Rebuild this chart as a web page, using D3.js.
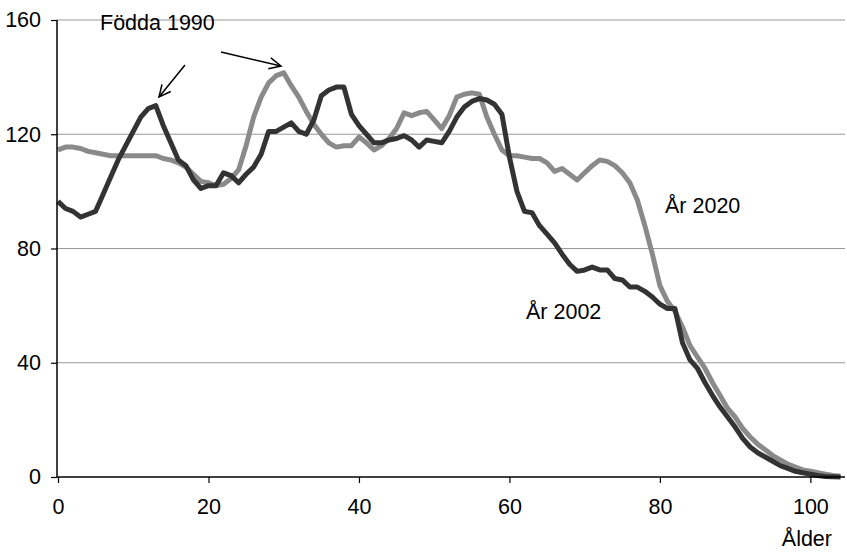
<!DOCTYPE html>
<html>
<head>
<meta charset="utf-8">
<script src="https://cdn.jsdelivr.net/npm/d3@7"></script>
<style>
  body { margin: 0; background: #fff; }
  svg { display: block; font-family: "Liberation Sans", Arial, sans-serif; }
</style>
</head>
<body>
<svg id="chart" width="847" height="552"></svg>
<script>
// ages 0..104
var ages = d3.range(0, 105);

var ar2002 = [96.5, 94, 93, 91, 92, 93, 99, 105, 111, 116,
  121, 126, 129, 130, 123, 117, 111, 109, 104, 101,
  102, 102, 106.5, 105.5, 103, 106, 108.5, 113, 121, 121,
  122.5, 124, 121, 120, 125, 133.5, 135.5, 136.5, 136.5, 127,
  123, 120, 117, 117, 118, 118.5, 119.5, 118, 115.5, 118,
  117.5, 117, 121, 126, 129.5, 131.5, 132.5, 132, 130.5, 127,
  112, 100, 93, 92.5, 88, 85, 82, 78, 74.5, 72,
  72.5, 73.5, 72.5, 72.5, 69.5, 69, 66.5, 66.5, 65, 63,
  60.5, 59, 59, 47, 41, 38, 33, 28.5, 24.5, 21,
  17.5, 13.5, 10.5, 8.5, 7, 5.5, 4, 3, 2, 1.5,
  1, 0.5, 0.2, 0.1, 0];

var ar2020 = [114.5, 115.5, 115.5, 115, 114, 113.5, 113, 112.5, 112.5, 112.5,
  112.5, 112.5, 112.5, 112.5, 111.5, 111, 110, 108.5, 106, 103.5,
  103, 102, 102.5, 104.5, 107.5, 116, 126, 133, 138, 140.5,
  141.5, 137, 133, 128, 123.5, 120, 117, 115.5, 116, 116,
  119, 117, 114.5, 116, 118.5, 122, 127.5, 126.5, 127.5, 128,
  125, 122, 126.5, 133, 134, 134.5, 134, 126, 120, 114.5,
  112.5, 112.5, 112, 111.5, 111.5, 110, 107, 108, 106, 104,
  106.5, 109, 111, 110.5, 109, 106.5, 103, 97, 88, 78,
  67, 61.5, 58, 52.5, 46, 42, 38, 33, 28.5, 24,
  21, 17, 14, 11.5, 9.5, 7.5, 6, 4.5, 3.5, 2.5,
  2, 1.5, 1, 0.5, 0.3];

var xTicks = [0, 20, 40, 60, 80, 100];
var yTicks = [0, 40, 80, 120, 160];

var svg = d3.select("#chart");
var mLeft = 57, mRight = 845, mTop = 20, mBottom = 477;

var x = d3.scaleLinear().domain([0, 104.6]).range([mLeft + 1, mRight]);
var y = d3.scaleLinear().domain([0, 160]).range([mBottom, mTop]);

// gridlines
svg.append("g").selectAll("line")
  .data(yTicks.filter(function(d) { return d > 0; }))
  .enter().append("line")
  .attr("x1", mLeft).attr("x2", mRight)
  .attr("y1", function(d) { return y(d); })
  .attr("y2", function(d) { return y(d); })
  .attr("stroke", "#999").attr("stroke-width", 1.2);

var line = d3.line()
  .x(function(d, i) { return x(ages[i]); })
  .y(function(d) { return y(d); });

svg.append("path").datum(ar2020)
  .attr("d", line).attr("fill", "none")
  .attr("stroke", "#8a8a8a").attr("stroke-width", 5)
  .attr("stroke-linejoin", "round");

svg.append("path").datum(ar2002)
  .attr("d", line).attr("fill", "none")
  .attr("stroke", "#333").attr("stroke-width", 5)
  .attr("stroke-linejoin", "round");

// axes
var yAxis = svg.append("g")
  .attr("transform", "translate(" + mLeft + ",0)")
  .call(d3.axisLeft(y).tickValues(yTicks).tickSize(6).tickPadding(10));
var xAxis = svg.append("g")
  .attr("transform", "translate(0," + mBottom + ")")
  .call(d3.axisBottom(x).tickValues(xTicks).tickSize(6).tickPadding(16));

[yAxis, xAxis].forEach(function(a) {
  a.selectAll(".tick line").attr("stroke", "#000").attr("stroke-width", 1.2);
  a.selectAll("text").attr("font-size", 21.5).attr("fill", "#000")
    .attr("font-family", "Liberation Sans, Arial, sans-serif");
});
xAxis.select(".domain").attr("d", "M" + mLeft + ",0H" + mRight)
  .attr("stroke", "#000").attr("stroke-width", 1.5);
yAxis.select(".domain").attr("d", "M0," + mBottom + "V" + mTop)
  .attr("stroke", "#000").attr("stroke-width", 1.5);

// annotations
function txt(s, tx, ty, anchor) {
  svg.append("text").attr("x", tx).attr("y", ty)
    .attr("text-anchor", anchor || "start")
    .attr("font-size", 21.5).attr("fill", "#000").text(s);
}
txt("Födda 1990", 100, 30);
txt("År 2020", 665, 213);
txt("År 2002", 526, 319);
txt("Ålder", 832, 546, "end");

function arrow(x1, y1, x2, y2) {
  svg.append("line").attr("x1", x1).attr("y1", y1).attr("x2", x2).attr("y2", y2)
    .attr("stroke", "#000").attr("stroke-width", 1.5);
  var a = Math.atan2(y2 - y1, x2 - x1), L = 13, w = 0.45;
  var p = "M" + (x2 - L * Math.cos(a - w)) + "," + (y2 - L * Math.sin(a - w)) +
    "L" + x2 + "," + y2 +
    "L" + (x2 - L * Math.cos(a + w)) + "," + (y2 - L * Math.sin(a + w));
  svg.append("path").attr("d", p).attr("fill", "none")
    .attr("stroke", "#000").attr("stroke-width", 1.5);
}
arrow(185, 65, 159, 97);
arrow(221, 52, 281, 66);
</script>
</body>
</html>
